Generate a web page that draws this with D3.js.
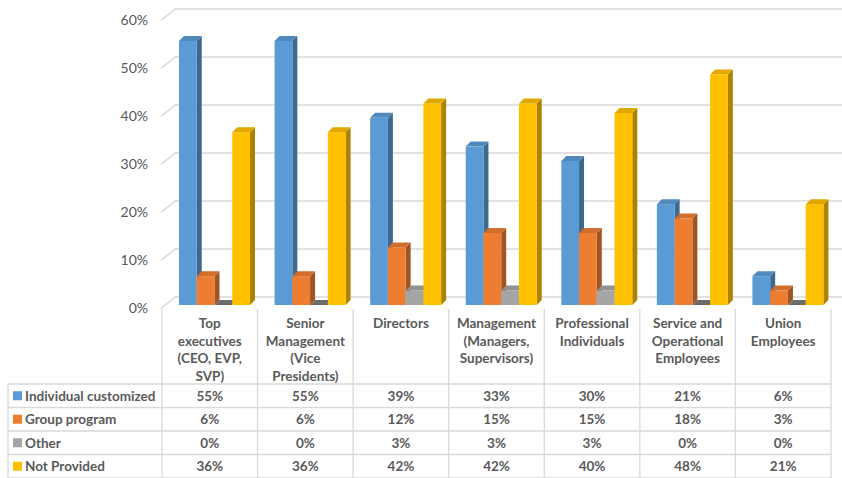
<!DOCTYPE html>
<html><head><meta charset="utf-8">
<script src="https://cdn.jsdelivr.net/npm/d3@7"></script>
<style>body{margin:0;background:#fff}svg{display:block}text{font-family:Lato,"Open Sans",sans-serif;fill:#595959}</style>
</head><body>
<svg id="c" width="842" height="478"></svg>
<script>
const categories = [
  ["Top","executives","(CEO, EVP,","SVP)"],
  ["Senior","Management","(Vice","Presidents)"],
  ["Directors"],
  ["Management","(Managers,","Supervisors)"],
  ["Professional","Individuals"],
  ["Service and","Operational","Employees"],
  ["Union","Employees"]
];
const seriesNames = ["Individual customized","Group program","Other","Not Provided"];
const individualCustomized = [55,55,39,33,30,21,6];
const groupProgram = [6,6,12,15,15,18,3];
const other = [0,0,3,3,3,0,0];
const notProvided = [36,36,42,42,40,48,21];
const yTicks = [0,10,20,30,40,50,60];
const colors = ["#5B9BD5","#ED7D31","#A5A5A5","#FFC000"];

const values = [individualCustomized, groupProgram, other, notProvided];
const svg = d3.select("#c");
const catIdx = categories.map((d,i)=>i);

const yBack = d3.scaleLinear().domain([0,60]).range([297,9]);
const x = d3.scaleBand().domain(catIdx).range([162,831]).padding(0);
const xs = d3.scaleBand().domain(d3.range(4)).range([0,71]);
const dx = 5, dy = -5;

// gridlines (wall)
const g = svg.append("g");
yTicks.forEach(t=>{
  const yb = yBack(t);
  g.append("path").attr("d",`M161,${yb+11.5}L175,${yb}L842,${yb}`)
    .attr("fill","none").attr("stroke","#D9D9D9").attr("stroke-width",1.5);
  g.append("text").attr("x",148).attr("y",yb+11+5).attr("text-anchor","end")
    .attr("font-size",14).text(t+"%");
});

// bars
const bars = svg.append("g");
catIdx.forEach(ci=>{
  d3.range(4).forEach(si=>{
    const v = values[si][ci];
    const x0 = x(ci)+17+xs(si), w = xs.bandwidth();
    const yb = 305, yt = yBack(v)+8;
    const c = d3.color(colors[si]);
    const side = c.darker(1.1).formatHex();
    const top = c.darker(0.35).formatHex();
    bars.append("path").attr("d",`M${x0+w},${yt}L${x0+w+dx},${yt+dy}L${x0+w+dx},${yb+dy}L${x0+w},${yb}Z`).attr("fill",side);
    if (v>0) bars.append("rect").attr("x",x0).attr("y",yt).attr("width",w).attr("height",yb-yt).attr("fill",colors[si]);
    bars.append("path").attr("d",`M${x0},${yt}L${x0+dx},${yt+dy}L${x0+w+dx},${yt+dy}L${x0+w},${yt}Z`).attr("fill",v>0?top:c.darker(1.2).formatHex());
  });
});

// table
const tb = svg.append("g");
const rowY = [384,407.5,431,454.5,478];
const lineC = "#D9D9D9";
x.domain().forEach(ci=>{
  tb.append("line").attr("x1",x(ci)).attr("x2",x(ci)).attr("y1",309).attr("y2",478).attr("stroke",lineC).attr("stroke-width",1.3);
});
tb.append("line").attr("x1",831).attr("x2",831).attr("y1",309).attr("y2",478).attr("stroke",lineC).attr("stroke-width",1.3);
tb.append("line").attr("x1",8).attr("x2",8).attr("y1",384).attr("y2",478).attr("stroke",lineC).attr("stroke-width",1.3);
rowY.forEach(y=>{
  tb.append("line").attr("x1",8).attr("x2",831).attr("y1",y).attr("y2",y).attr("stroke",lineC).attr("stroke-width",1.3);
});
categories.forEach((lines,ci)=>{
  const t = tb.append("text").attr("text-anchor","middle").attr("font-size",13.5).attr("font-weight","bold");
  lines.forEach((l,li)=>{
    t.append("tspan").attr("x",x(ci)+x.bandwidth()/2).attr("y",328+li*17.5).text(l);
  });
});
seriesNames.forEach((s,si)=>{
  const yc = (rowY[si]+rowY[si+1])/2;
  tb.append("rect").attr("x",13).attr("y",yc-4.5).attr("width",9).attr("height",9).attr("fill",colors[si]);
  tb.append("text").attr("x",25).attr("y",yc+4.8).attr("font-size",13.5).attr("font-weight","bold").text(s);
  values[si].forEach((v,ci)=>{
    tb.append("text").attr("x",x(ci)+x.bandwidth()/2).attr("y",yc+4.8).attr("text-anchor","middle")
      .attr("font-size",13.5).attr("font-weight","bold").text(v+"%");
  });
});
</script>
</body></html>
